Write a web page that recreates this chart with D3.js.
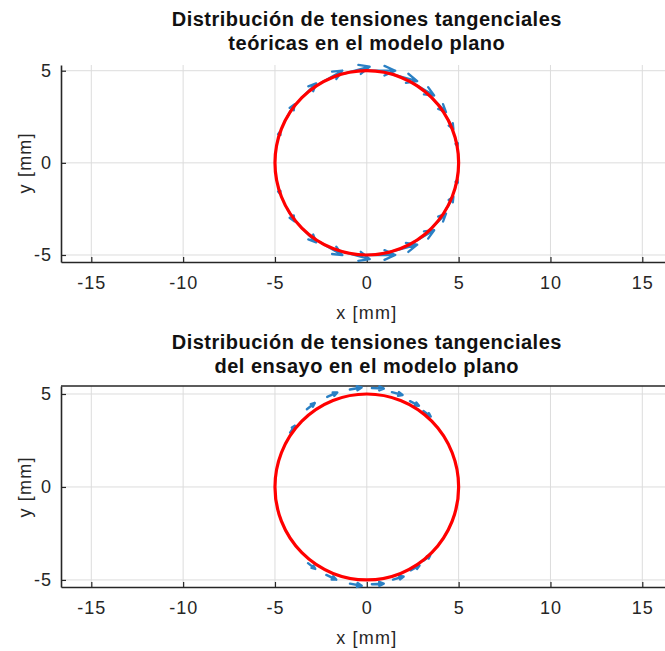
<!DOCTYPE html>
<html>
<head>
<meta charset="utf-8">
<script src="https://cdn.jsdelivr.net/npm/d3@7"></script>
<style>
  body { margin: 0; background: #fff; }
  svg { display: block; font-family: "Liberation Sans", Arial, Helvetica, sans-serif; }
</style>
</head>
<body>
<svg width="665" height="651"></svg>
<script>
// ticks
const xTicks = [-15, -10, -5, 0, 5, 10, 15];
const yTicks = [-5, 0, 5];

// radio del modelo (mm)
const radio = 5;

// tensiones teoricas: angulo (grados) del punto y modulo relativo
const teoricaAng = [0, 15, 30, 45, 60, 75, 90, 105, 120, 135, 150, 165,
                    180, 195, 210, 225, 240, 255, 270, 285, 300, 315, 330, 345];
const teoricaMag = [0, 0.26, 0.5, 0.71, 0.87, 0.97, 1, 0.97, 0.87, 0.71, 0.5, 0.26,
                    0, 0.26, 0.5, 0.71, 0.87, 0.97, 1, 0.97, 0.87, 0.71, 0.5, 0.26];

// tensiones del ensayo: angulo, radio del punto (mm) y modulo
const ensayoAng = [145, 128, 114, 100, 87, 75, 63, 53, 232, 245, 260, 273, 286, 298, 308];
const ensayoR   = [5.1, 5.3, 5.3, 5.32, 5.33, 5.28, 5.18, 5.12, 5.2, 5.22, 5.28, 5.24, 5.18, 5.08, 5.03];
const ensayoMag = [0.45, 0.55, 0.6, 0.65, 0.65, 0.6, 0.55, 0.5, 0.5, 0.6, 0.65, 0.65, 0.6, 0.55, 0.45];

const svg = d3.select("svg");
const ink = "#262626";
const azul = "#2a80c4";

function quiverData(ang, r, mag, escala) {
  return ang.map((a, i) => {
    const t = a * Math.PI / 180;
    const s = Math.sin(t) >= 0 ? 1 : -1;
    const rr = Array.isArray(r) ? r[i] : r;
    // tangente hacia la derecha
    return {
      x: rr * Math.cos(t), y: rr * Math.sin(t),
      u: mag[i] * escala * Math.abs(Math.sin(t)),
      v: -mag[i] * escala * Math.cos(t) * s
    };
  }).filter(d => Math.hypot(d.u, d.v) > 1e-6);
}

function panel(cfg) {
  const x = d3.scaleLinear().domain([-16.65, 16.65]).range([61, 672.6]);
  const y = d3.scaleLinear().domain(cfg.yDom).range([cfg.bottom, cfg.top]);
  const g = svg.append("g");

  // grid
  g.append("g").selectAll("line").data(xTicks).join("line")
    .attr("x1", d => x(d)).attr("x2", d => x(d))
    .attr("y1", cfg.top).attr("y2", cfg.bottom)
    .attr("stroke", "#dcdcdc").attr("stroke-width", 1);
  g.append("g").selectAll("line").data(yTicks).join("line")
    .attr("x1", x.range()[0]).attr("x2", x.range()[1])
    .attr("y1", d => y(d)).attr("y2", d => y(d))
    .attr("stroke", "#dcdcdc").attr("stroke-width", 1);

  // axes (ticks hacia dentro)
  const ax = g.append("g").attr("transform", `translate(0,${cfg.bottom})`)
    .call(d3.axisBottom(x).tickValues(xTicks).tickSizeInner(-5).tickSizeOuter(0).tickPadding(14)
      .tickFormat(d => String(d)));
  const ay = g.append("g").attr("transform", `translate(${x.range()[0]},0)`)
    .call(d3.axisLeft(y).tickValues(yTicks).tickSizeInner(-5).tickSizeOuter(0).tickPadding(9)
      .tickFormat(d => String(d)));
  [ax, ay].forEach(a => {
    a.select(".domain").attr("stroke", ink).attr("stroke-width", 1.6);
    a.selectAll(".tick line").attr("stroke", ink).attr("stroke-width", 1.2);
    a.selectAll(".tick text").attr("fill", ink).attr("font-size", 18)
      .attr("letter-spacing", 1).attr("font-family", null);
  });
  ax.selectAll(".tick text").attr("dy", "0.71em");
  if (cfg.box) {
    g.append("line").attr("x1", x.range()[0]).attr("x2", x.range()[1])
      .attr("y1", cfg.top).attr("y2", cfg.top).attr("stroke", ink).attr("stroke-width", 1.6);
  }

  // quiver
  const q = quiverData(cfg.ang, cfg.r, cfg.mag, cfg.escala);
  const qg = g.append("g").attr("fill", "none").attr("stroke", azul)
    .attr("stroke-width", cfg.grosor).attr("stroke-linecap", "round").attr("stroke-linejoin", "round");
  qg.selectAll("path").data(q).join("path")
    .attr("d", d => {
      const x0 = x(d.x), y0 = y(d.y), x1 = x(d.x + d.u), y1 = y(d.y + d.v);
      const dx = x1 - x0, dy = y1 - y0, L = Math.hypot(dx, dy);
      const ux = dx / L, uy = dy / L;
      const hl = 0.38 * L, hw = 0.17 * L;
      const bx = x1 - ux * hl, by = y1 - uy * hl;
      return `M${x0},${y0}L${x1},${y1}` +
        `M${bx - uy * hw},${by + ux * hw}L${x1},${y1}L${bx + uy * hw},${by - ux * hw}`;
    });

  // circulo
  g.append("ellipse")
    .attr("cx", x(0)).attr("cy", y(0))
    .attr("rx", x(radio) - x(0)).attr("ry", y(0) - y(radio))
    .attr("fill", "none").attr("stroke", "#ff0000").attr("stroke-width", 3.2);

  // titulos
  cfg.title.forEach((t, i) => {
    g.append("text").attr("x", x(0)).attr("y", cfg.titleY + i * 24)
      .attr("text-anchor", "middle").attr("font-weight", "bold").attr("font-size", 20)
      .attr("letter-spacing", 0.5).attr("fill", "#111").text(t);
  });
  g.append("text").attr("x", x(0)).attr("y", cfg.bottom + 57)
    .attr("text-anchor", "middle").attr("font-size", 18).attr("letter-spacing", 1.2)
    .attr("fill", ink).text("x [mm]");
  g.append("text").attr("transform", `translate(31,${y(0)}) rotate(-90)`)
    .attr("text-anchor", "middle").attr("font-size", 18).attr("letter-spacing", 1.2)
    .attr("fill", ink).text("y [mm]");
}

panel({
  top: 65, bottom: 262, yDom: [-5.38, 5.31], box: false,
  ang: teoricaAng, r: radio, mag: teoricaMag, escala: 1.55, grosor: 2.3,
  title: ["Distribución de tensiones tangenciales", "teóricas en el modelo plano"], titleY: 26
});
panel({
  top: 386, bottom: 587, yDom: [-5.38, 5.43], box: true,
  ang: ensayoAng, r: ensayoR, mag: ensayoMag, escala: 1, grosor: 2.4,
  title: ["Distribución de tensiones tangenciales", "del ensayo en el modelo plano"], titleY: 349
});
</script>
</body>
</html>
